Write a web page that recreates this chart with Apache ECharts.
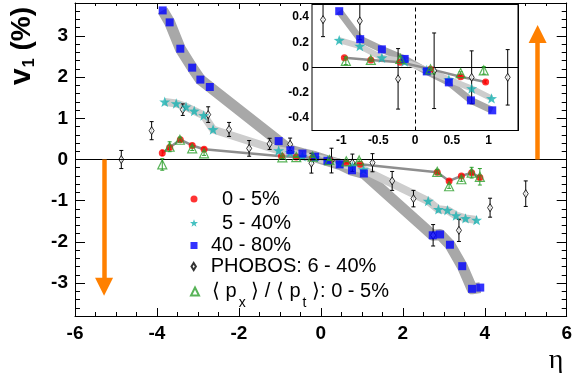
<!DOCTYPE html>
<html><head><meta charset="utf-8">
<script src="https://cdn.jsdelivr.net/npm/echarts@6/dist/echarts.min.js"></script>
<style>html,body{margin:0;padding:0;background:#fff}#c{width:575px;height:373px}</style>
</head><body><div id="c"></div>
<script>
// ---------------- data ----------------
const etaRed   = [-3.87,-3.69,-3.43,-3.14,-2.85,-0.96,-0.60,-0.20,0.21,0.62,0.96,2.84,3.13,3.43,3.68,3.88];
const v1Red    = [0.16,0.29,0.48,0.34,0.25,0.078,0.06,0.042,-0.013,-0.073,-0.115,-0.31,-0.52,-0.40,-0.32,-0.44];
const errRed   = [0.07,0.05,0.04,0.04,0.04,0.01,0.01,0.01,0.01,0.01,0.01,0.04,0.04,0.04,0.04,0.05];

const etaCyan  = [-3.81,-3.53,-3.29,-3.09,-2.86,-2.63,-1.03,-0.75,-0.45,-0.14,0.16,0.46,0.77,1.04,2.62,2.87,3.09,3.30,3.53,3.80];
const v1Cyan   = [1.40,1.36,1.28,1.18,1.07,0.73,0.217,0.17,0.078,0.047,-0.02,-0.096,-0.167,-0.245,-1.01,-1.21,-1.23,-1.36,-1.43,-1.47];

const etaBlue  = [-3.86,-3.69,-3.43,-3.14,-2.94,-2.71,-1.03,-0.745,-0.45,-0.14,0.16,0.46,0.76,1.05,2.73,2.91,3.15,3.45,3.69,3.89];
const v1Blue   = [3.62,3.33,2.69,2.23,1.94,1.76,0.447,0.225,0.144,0.068,-0.031,-0.118,-0.261,-0.34,-1.84,-1.82,-2.07,-2.59,-3.14,-3.11];

const etaPhobos = [-4.87,-4.13,-3.37,-2.75,-2.24,-1.75,-1.25,-0.75,-0.23,0.26,0.77,1.26,1.74,2.26,2.74,3.37,4.13,5.0];
const v1Phobos  = [0.0,0.70,1.21,1.09,0.73,0.27,0.38,0.37,-0.09,-0.026,-0.078,-0.078,-0.52,-0.95,-1.84,-1.72,-1.17,-0.83];
const errPhobos = [0.22,0.22,0.14,0.19,0.17,0.19,0.135,0.15,0.24,0.30,0.21,0.22,0.23,0.20,0.26,0.27,0.23,0.31];

const etaPxPt  = [-3.87,-3.69,-3.44,-3.14,-2.85,-0.94,-0.60,-0.20,0.21,0.62,0.935,2.84,3.13,3.43,3.68,3.88];
const v1PxPt   = [-0.12,0.31,0.48,0.27,0.15,0.053,0.06,0.068,-0.015,-0.044,-0.023,-0.30,-0.65,-0.48,-0.32,-0.42];
const errPxPt  = [0.14,0.12,0.06,0.05,0.05,0.03,0.01,0.02,0.01,0.01,0.03,0.06,0.05,0.05,0.13,0.20];

// orange arrows (eta position, end value)
const arrowEta = [-5.29, 5.29];
const arrowEnd = [-3.09, 3.05];

// axes
const mainXRange = [-6, 6];   const mainXStep = 2;
const mainYRange = [-3.8, 3.8]; const mainYStep = 1; const mainYMinor = 0.2;
const insetXRange = [-1.4, 1.4]; const insetXStep = 0.5;
const insetYRange = [-0.5, 0.5]; const insetYStep = 0.2; const insetYMinor = 0.05;
const insetEtaMax = 1.4;

// legend
const legendNames  = ['0 - 5%', '5 - 40%', '40 - 80%', 'PHOBOS: 6 - 40%', 'px/pt: 0 - 5%'];
const legendLabels = ['0 - 5%', '5 - 40%', '40 - 80%', 'PHOBOS: 6 - 40%',
                      '\u27E8 p{s|x} \u27E9 / \u27E8 p{s|t} \u27E9: 0 - 5%'];

// ---------------- styling ----------------
const F = '"Liberation Sans", Arial, Helvetica, sans-serif';
const RED = '#ff0000', CYAN = '#17b2b2', BLUE = '#0000ff', GREEN = '#2ea02e', ORANGE = '#ff8000';
const STAR = 'path://M0,-10 L2.35,-3.24 L9.51,-3.09 L3.8,1.24 L5.88,8.09 L0,4 L-5.88,8.09 L-3.8,1.24 L-9.51,-3.09 L-2.35,-3.24 Z';
const DIAMOND = 'path://M0,-4 L2.5,0 L0,4 L-2.5,0 Z';

const pts = (eta, v, err) => eta.map((e, i) => err ? [e, v[i], err[i]] : [e, v[i]]);
const inInset = d => Math.abs(d[0]) < insetEtaMax;

function errRender(capHalf, color) {
  return function (params, api) {
    const x = api.value(0), y = api.value(1), e = api.value(2);
    const lo = api.coord([x, y - e]), hi = api.coord([x, y + e]);
    const style = { stroke: color, lineWidth: 1, fill: null };
    return { type: 'group', children: [
      { type: 'line', shape: { x1: lo[0], y1: lo[1], x2: hi[0], y2: hi[1] }, style },
      { type: 'line', shape: { x1: lo[0] - capHalf, y1: lo[1], x2: lo[0] + capHalf, y2: lo[1] }, style },
      { type: 'line', shape: { x1: hi[0] - capHalf, y1: hi[1], x2: hi[0] + capHalf, y2: hi[1] }, style }
    ]};
  };
}

function buildSeries(xi, yi, inset) {
  const f = inset ? (a => a.filter(inInset)) : (a => a);
  const red = f(pts(etaRed, v1Red, errRed)), cyan = f(pts(etaCyan, v1Cyan)), blue = f(pts(etaBlue, v1Blue));
  const ph = f(pts(etaPhobos, v1Phobos, errPhobos)), gr = f(pts(etaPxPt, v1PxPt, errPxPt));
  const common = { xAxisIndex: xi, yAxisIndex: yi, silent: true, clip: true };
  const sc = { symbolKeepAspect: true };
  const band = (name, data, w, c, z) => Object.assign({ type: 'line', name, data: data.map(d => [d[0], d[1]]),
    showSymbol: false, symbol: 'none', z, lineStyle: { width: w, color: c, cap: 'butt', join: 'round' } }, common);
  const list = [
    band('b1', blue, inset ? 7 : 11, '#a8a8a8', 1),
    band('b2', cyan, inset ? 6 : 8, '#cdcdcd', 1),
    band('b3', red, 2.5, '#8e8e8e', 1),
    Object.assign({ type: 'custom', name: 'ePh', data: ph, renderItem: errRender(2, '#000'), z: 2 }, common),
    Object.assign({ type: 'scatter', name: legendNames[3], data: ph.map(d => [d[0], d[1]]), symbol: DIAMOND, symbolSize: 8,
      itemStyle: { color: '#fff', borderColor: '#000', borderWidth: 1 }, z: 3 }, common, sc),
    Object.assign({ type: 'custom', name: 'eR', data: red, renderItem: errRender(1.5, RED), z: 3 }, common),
    Object.assign({ type: 'scatter', name: legendNames[0], data: red.map(d => [d[0], d[1]]), symbol: 'circle', symbolSize: 7,
      itemStyle: { color: RED }, z: 4 }, common, sc),
    Object.assign({ type: 'scatter', name: legendNames[1], data: cyan, symbol: STAR, symbolSize: 11,
      itemStyle: { color: CYAN }, z: 4 }, common, sc),
    Object.assign({ type: 'scatter', name: legendNames[2], data: blue, symbol: 'rect', symbolSize: 8,
      itemStyle: { color: BLUE }, z: 4 }, common, sc),
    Object.assign({ type: 'custom', name: 'eG', data: gr, renderItem: errRender(2, GREEN), z: 5 }, common),
    Object.assign({ type: 'scatter', name: legendNames[4], data: gr.map(d => [d[0], d[1]]), symbol: 'triangle', symbolSize: 9,
      itemStyle: { color: 'rgba(0,0,0,0)', borderColor: GREEN, borderWidth: 1.2 }, z: 5 }, common, sc)
  ];
  list[2].markLine = { silent: true, symbol: 'none', animation: false, label: { show: false },
    data: inset
      ? [{ yAxis: 0, lineStyle: { color: '#000', width: 1, type: 'solid' } },
         { xAxis: 0, lineStyle: { color: '#000', width: 1, type: [4, 3] } }]
      : [{ yAxis: 0, lineStyle: { color: '#000', width: 1, type: 'solid' } }] };
  if (!inset) {
    list[4].markLine = { silent: true, animation: false, label: { show: false },
      lineStyle: { color: ORANGE, width: 4.5, type: 'solid' },
      data: arrowEta.map((e, i) => [
        { coord: [e, 0], symbol: 'none' },
        { coord: [e, arrowEnd[i]], symbol: 'triangle', symbolSize: [18, 18], itemStyle: { color: ORANGE } }
      ]) };
  }
  return list;
}

const blk = { color: '#000', width: 1 };
const noLbl = { show: false };
const hidLine = { show: false, onZero: false };
const mainGrid = { left: 75, top: 3, width: 492, height: 313, show: false };
const insetGrid = { left: 312, top: 4.5, width: 206, height: 126, show: true, backgroundColor: '#fff', borderColor: '#000', borderWidth: 1, z: 5 };

const xAxes = [
  { type: 'value', gridIndex: 0, position: 'bottom', min: mainXRange[0], max: mainXRange[1], interval: mainXStep,
    axisLine: { show: true, onZero: false, lineStyle: blk }, splitLine: { show: false },
    axisTick: { inside: true, length: 8, lineStyle: blk }, minorTick: { show: true, splitNumber: 4, length: 4, lineStyle: blk },
    axisLabel: { fontFamily: F, fontSize: 19, fontWeight: 'bold', color: '#000', margin: 8 } },
  { type: 'value', gridIndex: 0, position: 'top', min: mainXRange[0], max: mainXRange[1], interval: mainXStep,
    axisLine: { show: true, onZero: false, lineStyle: blk }, splitLine: { show: false },
    axisTick: { inside: true, length: 6, lineStyle: blk }, minorTick: { show: true, splitNumber: 4, length: 3, lineStyle: blk },
    axisLabel: noLbl },
  { type: 'value', gridIndex: 1, position: 'bottom', min: insetXRange[0], max: insetXRange[1], minInterval: insetXStep, maxInterval: insetXStep,
    axisLine: { show: true, onZero: false, lineStyle: blk }, splitLine: { show: false },
    axisTick: { inside: true, length: 5, lineStyle: blk },
    axisLabel: { fontFamily: F, fontSize: 12, fontWeight: 'bold', color: '#000', margin: 4, showMinLabel: false, showMaxLabel: false } },
  { type: 'value', gridIndex: 1, position: 'top', min: insetXRange[0], max: insetXRange[1],
    axisLine: { show: true, onZero: false, lineStyle: blk }, splitLine: { show: false }, axisTick: { show: false }, axisLabel: noLbl }
];
const yAxes = [
  { type: 'value', gridIndex: 0, position: 'left', min: mainYRange[0], max: mainYRange[1], minInterval: mainYStep, maxInterval: mainYStep,
    axisLine: { show: true, onZero: false, lineStyle: blk }, splitLine: { show: false },
    axisTick: { inside: true, length: 10, lineStyle: blk },
    axisLabel: { fontFamily: F, fontSize: 19, fontWeight: 'bold', color: '#000', margin: 7, showMinLabel: false, showMaxLabel: false } },
  { type: 'value', gridIndex: 0, position: 'left', min: mainYRange[0], max: mainYRange[1], interval: mainYMinor,
    axisLine: hidLine, splitLine: { show: false }, axisTick: { inside: true, length: 5, lineStyle: blk }, axisLabel: noLbl },
  { type: 'value', gridIndex: 0, position: 'right', min: mainYRange[0], max: mainYRange[1], minInterval: mainYStep, maxInterval: mainYStep,
    axisLine: { show: true, onZero: false, lineStyle: blk }, splitLine: { show: false },
    axisTick: { inside: true, length: 10, lineStyle: blk }, axisLabel: noLbl },
  { type: 'value', gridIndex: 0, position: 'right', min: mainYRange[0], max: mainYRange[1], interval: mainYMinor,
    axisLine: hidLine, splitLine: { show: false }, axisTick: { inside: true, length: 5, lineStyle: blk }, axisLabel: noLbl },
  { type: 'value', gridIndex: 1, position: 'left', min: insetYRange[0], max: insetYRange[1], minInterval: insetYStep, maxInterval: insetYStep,
    axisLine: { show: true, onZero: false, lineStyle: blk }, splitLine: { show: false },
    axisTick: { inside: true, length: 6, lineStyle: blk },
    axisLabel: { fontFamily: F, fontSize: 12, fontWeight: 'bold', color: '#000', margin: 3, showMinLabel: false, showMaxLabel: false } },
  { type: 'value', gridIndex: 1, position: 'left', min: insetYRange[0], max: insetYRange[1], interval: insetYMinor,
    axisLine: hidLine, splitLine: { show: false }, axisTick: { inside: true, length: 3, lineStyle: blk }, axisLabel: noLbl },
  { type: 'value', gridIndex: 1, position: 'right', min: insetYRange[0], max: insetYRange[1],
    axisLine: { show: true, onZero: false, lineStyle: blk }, splitLine: { show: false }, axisTick: { show: false }, axisLabel: noLbl }
];

// legend layout: square icon boxes centred at x=194, text starting at x=211 (+11 for the first two rows)
const legendTops  = [189, 213, 235.5, 256.5, 272.5];
const legendIcon  = [7, 8, 7, 7, 8];
const legendExtra = [11, 11, 0, 0, 0];
const legends = legendNames.map((n, i) => {
  const w = legendIcon[i];
  return {
    data: [n], left: 194 - w / 2, top: legendTops[i], padding: 0, itemWidth: w, itemHeight: w,
    symbolKeepAspect: true, selectedMode: false, formatter: () => legendLabels[i],
    textStyle: { fontFamily: F, fontSize: 20, color: '#000', lineHeight: 20, padding: [0, 0, 0, 12 - w / 2 + legendExtra[i]],
      rich: { s: { fontFamily: F, fontSize: 14, lineHeight: 14, padding: [24, 0, 0, 2], color: '#000' } } }
  };
});

const option = {
  animation: false,
  backgroundColor: '#fff',
  grid: [mainGrid, insetGrid],
  xAxis: xAxes,
  yAxis: yAxes,
  legend: legends,
  series: [...buildSeries(0, 0, false), ...buildSeries(2, 4, true).map(s => Object.assign(s, { z: (s.z || 2) + 10 }))],
  graphic: [
    { type: 'text', x: 22, y: 46, rotation: Math.PI / 2, z: 100,
      style: { text: '{v|v}{s|1}{p| (%)}', align: 'center', verticalAlign: 'middle', fill: '#000',
        rich: { v: { fontFamily: F, fontSize: 30, fontWeight: 'bold' },
                s: { fontFamily: F, fontSize: 16, fontWeight: 'bold', padding: [16, 0, 0, 1] },
                p: { fontFamily: F, fontSize: 28, fontWeight: 'bold' } } } },
    { type: 'text', x: 556, y: 361, z: 100,
      style: { text: '\u03B7', font: '28px "Liberation Serif", serif', fill: '#000', align: 'center', verticalAlign: 'middle' } }
  ]
};
const chart = echarts.init(document.getElementById('c'));
chart.setOption(option);
</script></body></html>
